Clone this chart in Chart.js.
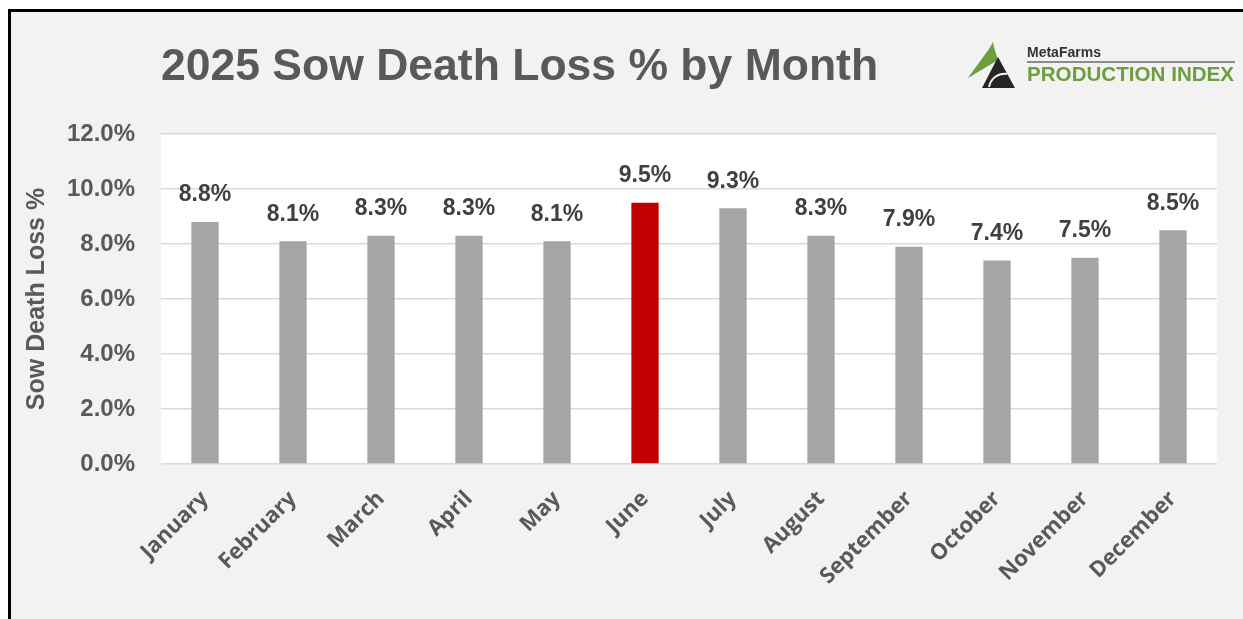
<!DOCTYPE html>
<html>
<head>
<meta charset="utf-8">
<title>2025 Sow Death Loss % by Month</title>
<script src="https://cdn.jsdelivr.net/npm/chart.js@4.4.1/dist/chart.umd.min.js"></script>
<style>
  html, body { margin: 0; padding: 0; background: #fff; overflow: hidden; }
  #page { position: relative; width: 1243px; height: 619px; overflow: hidden; }
  #frame { position: absolute; left: 8px; top: 9px; width: 1400px; height: 800px;
           border-left: 3px solid #000; border-top: 3px solid #000; background: #f2f2f2; }
  #chart { position: absolute; left: 0; top: 0; }
  #title { position: absolute; left: 161px; top: 43px; margin: 0;
           font: bold 44.5px/44px "Liberation Sans", Arial, sans-serif; color: #595959; white-space: nowrap; }
  #logo { position: absolute; left: 962px; top: 38px; }
  #brand { position: absolute; left: 1027px; top: 44px; font: bold 14px/16px "Liberation Sans", Arial, sans-serif; color: #333; }
  #rule { position: absolute; left: 1027px; top: 61px; width: 208px; height: 2px; background: #8c8c8c; }
  #index { position: absolute; left: 1027px; top: 63px; font: bold 20.6px/22px "Liberation Sans", Arial, sans-serif; color: #6c9d3e; white-space: nowrap; }
</style>
</head>
<body>
<div id="page">
  <div id="frame"></div>
  <canvas id="chart" width="1243" height="619"></canvas>
  <h1 id="title">2025 Sow Death Loss % by Month</h1>
  <svg id="logo" width="60" height="55" viewBox="0 0 60 55">
    <path d="M31 4 C26 14 14 28 6 40 C16 34 26 28 36 22 C34 16 32 10 31 4 Z" fill="#6c9d3e"/>
    <path d="M36 19 L53 50 L20 50 Z" fill="#262626"/>
    <path d="M27 49 C29 40 36 35 45 36" stroke="#f2f2f2" stroke-width="2" fill="none"/>
  </svg>
  <div id="brand">MetaFarms</div>
  <div id="rule"></div>
  <div id="index">PRODUCTION INDEX</div>
</div>
<script>
// data
const months = ["January", "February", "March", "April", "May", "June",
                "July", "August", "September", "October", "November", "December"];
const lossPct = [8.8, 8.1, 8.3, 8.3, 8.1, 9.5, 9.3, 8.3, 7.9, 7.4, 7.5, 8.5];
const highlightMonth = "June";
const yMin = 0, yMax = 12, yStep = 2;

const barColors = months.map(m => m === highlightMonth ? "#c00000" : "#a5a5a5");

// white plot area on the grey page
const plotBackground = {
    id: "plotBackground",
    beforeDraw(chart) {
        const { ctx, chartArea: a } = chart;
        ctx.save();
        ctx.fillStyle = "#ffffff";
        ctx.fillRect(a.left, a.top, a.right - a.left, a.bottom - a.top);
        ctx.restore();
    }
};

// value labels above each bar
const valueLabels = {
    id: "valueLabels",
    afterDatasetsDraw(chart) {
        const { ctx } = chart;
        const meta = chart.getDatasetMeta(0);
        ctx.save();
        ctx.font = 'bold 23px "Liberation Sans", Arial, sans-serif';
        ctx.fillStyle = "#404040";
        ctx.textAlign = "center";
        ctx.textBaseline = "middle";
        meta.data.forEach((bar, i) => {
            ctx.fillText(lossPct[i].toFixed(1) + "%", bar.x, bar.y - 27);
        });
        ctx.restore();
    }
};

const context = document.getElementById("chart").getContext("2d");
const chart = new Chart(context, {
    type: "bar",
    data: {
        labels: months,
        datasets: [{
            label: "Sow Death Loss %",
            data: lossPct,
            backgroundColor: barColors,
            borderWidth: 0,
            categoryPercentage: 1,
            barPercentage: 0.31
        }]
    },
    options: {
        responsive: false,
        animation: false,
        devicePixelRatio: 1,
        layout: {
            padding: { top: 134, right: 26, bottom: 0, left: 13 }
        },
        plugins: {
            legend: { display: false },
            tooltip: { enabled: false }
        },
        scales: {
            y: {
                min: yMin,
                max: yMax,
                afterFit(scale) { scale.width = 148; },
                ticks: {
                    stepSize: yStep,
                    padding: 26,
                    color: "#595959",
                    font: { family: '"Liberation Sans", Arial, sans-serif', size: 24, weight: "bold" },
                    callback: v => v.toFixed(1) + "%"
                },
                grid: { color: "#d9d9d9", lineWidth: 1.5, drawTicks: false },
                border: { display: false },
                title: {
                    display: true,
                    text: "Sow Death Loss %",
                    color: "#595959",
                    padding: { top: 9, bottom: 0 },
                    font: { family: '"Liberation Sans", Arial, sans-serif', size: 25, weight: "bold" }
                }
            },
            x: {
                afterFit(scale) { scale.height = 155; },
                ticks: {
                    maxRotation: 45,
                    minRotation: 45,
                    padding: 14,
                    color: "#595959",
                    font: { family: '"Open Sans", sans-serif', size: 22, weight: "bold" }
                },
                grid: { display: false },
                border: { display: false }
            }
        }
    },
    plugins: [plotBackground, valueLabels]
});
</script>
</body>
</html>
